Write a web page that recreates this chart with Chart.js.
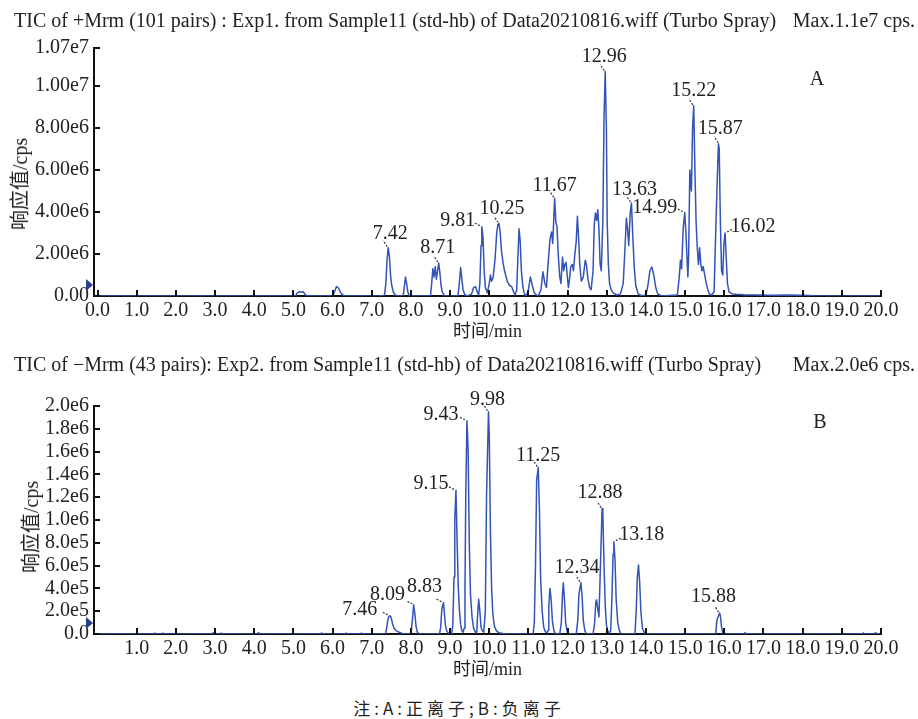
<!DOCTYPE html>
<html><head><meta charset="utf-8">
<script src="https://cdn.jsdelivr.net/npm/chart.js@4.4.0/dist/chart.umd.min.js"></script>
<style>
html,body{margin:0;padding:0;background:#fff;}
#wrap{position:relative;width:918px;height:719px;overflow:hidden;font-family:"Liberation Serif","Noto Sans CJK SC",serif;color:#222;}
canvas{position:absolute;left:0;}
#cA{top:0;} #cB{top:350px;}
.hdr{position:absolute;left:14px;right:3px;font-size:20px;line-height:20px;white-space:nowrap;}
.hdr .r{position:absolute;right:0;top:0;}
.ytitle{position:absolute;font-size:20px;line-height:20px;white-space:nowrap;transform:translate(-50%,-50%) rotate(-90deg);}
.tag{position:absolute;font-size:20px;line-height:20px;transform:translate(-50%,-50%);}
#note{position:absolute;left:0;width:918px;top:698px;text-align:center;font-size:17px;line-height:20px;letter-spacing:4px;font-family:"Noto Sans CJK SC",sans-serif;}
</style></head>
<body><div id="wrap">
<canvas id="cA" width="918" height="350"></canvas>
<canvas id="cB" width="918" height="340"></canvas>
<div class="hdr" style="top:10px">TIC of +Mrm (101 pairs) : Exp1. from Sample11 (std-hb) of Data20210816.wiff (Turbo Spray)<span class="r">Max.1.1e7 cps.</span></div>
<div class="hdr" style="top:354px">TIC of −Mrm (43 pairs): Exp2. from Sample11 (std-hb) of Data20210816.wiff (Turbo Spray)<span class="r">Max.2.0e6 cps.</span></div>
<div class="ytitle" style="left:20px;top:184px">响应值/cps</div>
<div class="ytitle" style="left:31px;top:527px">响应值/cps</div>
<div class="tag" style="left:817px;top:78px">A</div>
<div class="tag" style="left:820px;top:421px">B</div>
<div id="note">注:A:正离子;B:负离子</div>
</div>
<script>
// ---------- data ----------
// Panel A: time (min), response (units of 1e6 cps)
const traceA = [
[0,0],[5.05,0],[5.1,0.15],[5.15,0.2],[5.2,0.18],[5.25,0.2],[5.3,0.08],[5.35,0],
[6.0,0],[6.05,0.2],[6.1,0.45],[6.15,0.38],[6.2,0.18],[6.25,0.06],[6.32,0],
[7.3,0],[7.33,0.1],[7.36,0.6],[7.39,1.7],[7.42,2.3],[7.45,1.9],[7.48,1.0],[7.51,0.5],[7.55,0.2],[7.6,0.05],[7.65,0],
[7.8,0],[7.83,0.4],[7.86,0.9],[7.89,0.6],[7.92,0.2],[7.96,0],
[8.5,0],[8.53,0.6],[8.56,1.3],[8.59,0.9],[8.62,1.4],[8.65,0.8],[8.68,1.2],[8.71,1.57],[8.74,1.1],[8.77,0.5],[8.8,0.2],[8.86,0],
[9.2,0],[9.23,0.5],[9.27,1.35],[9.3,0.8],[9.33,0.3],[9.38,0.05],[9.45,0],
[9.55,0.1],[9.6,0.4],[9.65,0.45],[9.7,0.15],[9.73,0.05],[9.76,0.6],[9.79,2.4],[9.81,3.3],[9.84,2.8],[9.87,1.2],[9.9,0.4],[9.95,0.15],
[10.0,0.6],[10.03,1.0],[10.06,0.7],[10.1,0.9],[10.15,1.8],[10.19,3.0],[10.22,3.4],[10.25,3.45],[10.28,3.0],[10.31,2.2],[10.35,1.6],[10.39,1.2],[10.43,0.9],[10.47,0.65],[10.52,0.5],[10.57,0.45],[10.62,0.2],[10.66,0.05],
[10.7,0.3],[10.73,1.8],[10.76,3.2],[10.79,2.6],[10.82,1.2],[10.86,0.4],[10.9,0.1],[10.95,0],
[11.0,0.3],[11.05,0.9],[11.1,0.5],[11.15,0.15],[11.2,0.05],[11.25,0],
[11.32,0.3],[11.37,1.15],[11.42,0.6],[11.46,0.4],[11.5,1.5],[11.55,2.7],[11.59,3.05],[11.62,2.5],[11.65,3.8],[11.67,4.65],[11.7,3.5],[11.73,3.3],[11.76,2.0],[11.8,0.9],[11.83,0.6],[11.87,1.85],[11.9,1.2],[11.93,1.5],[11.96,1.6],[11.99,1.0],[12.02,0.4],[12.05,0.8],[12.08,1.4],[12.12,1.5],[12.15,1.2],[12.18,1.9],[12.22,2.6],[12.25,3.8],[12.28,2.8],[12.31,1.5],[12.35,0.7],[12.4,0.9],[12.45,1.7],[12.48,1.5],[12.52,0.8],[12.56,0.4],[12.6,0.3],[12.65,1.2],[12.68,3.4],[12.71,3.95],[12.74,3.6],[12.77,4.1],[12.8,3.2],[12.83,1.5],[12.86,1.2],[12.9,3.6],[12.93,8.5],[12.96,10.68],[12.99,8.0],[13.01,3.6],[13.04,1.5],[13.07,0.6],[13.11,0.3],[13.16,0.15],[13.25,0.05],[13.35,0.1],
[13.42,0.6],[13.47,2.5],[13.5,3.7],[13.53,3.2],[13.56,2.4],[13.6,4.0],[13.63,4.43],[13.66,3.0],[13.7,1.4],[13.74,0.5],[13.8,0.1],[13.9,0],
[14.0,0.05],[14.05,0.5],[14.1,1.2],[14.15,1.38],[14.2,1.0],[14.25,0.4],[14.3,0.1],[14.4,0],
[14.8,0.05],[14.85,0.9],[14.88,1.7],[14.91,1.3],[14.95,3.2],[14.99,3.97],[15.02,3.0],[15.05,1.7],[15.07,0.9],[15.09,2.0],[15.12,6.0],[15.16,5.0],[15.19,8.0],[15.22,9.05],[15.25,6.0],[15.28,3.5],[15.31,2.3],[15.34,1.5],[15.37,2.3],[15.4,1.5],[15.43,1.2],[15.46,1.4],[15.5,1.0],[15.54,0.6],[15.58,0.3],[15.62,0.1],[15.68,0.05],
[15.74,0.2],[15.78,3.0],[15.81,4.9],[15.85,7.25],[15.87,7.0],[15.9,3.5],[15.93,1.2],[15.96,1.0],[15.99,2.5],[16.02,3.0],[16.05,1.8],[16.08,0.6],[16.12,0.2],[16.2,0.1],[16.3,0.08],[16.5,0.06],[16.8,0.05],[17.2,0.04],[17.6,0.05],[18.0,0.04],[18.2,0.02],[18.3,0],[20,0]
];
// Panel B: time (min), response (units of 1e5 cps)
const traceB = [
[0,0],[1.44,0],[1.46,0.08],[1.48,0],[1.65,0],[1.67,0.08],[1.69,0],[2.93,0],[2.95,0.1],[2.97,0],[3.14,0],[3.16,0.08],[3.18,0],[4.08,0],[4.1,0.1],[4.12,0],[5.7,0],[5.72,0.1],[5.74,0],[6.33,0],[6.35,0.08],[6.37,0],[6.72,0],[6.74,0.08],[6.76,0],
[7.35,0],[7.38,0.5],[7.41,1.2],[7.44,1.55],[7.47,1.6],[7.5,1.4],[7.53,0.9],[7.57,0.5],[7.62,0.3],[7.7,0.15],[7.78,0.05],[7.85,0],
[7.98,0],[8.01,0.3],[8.04,1.3],[8.07,2.55],[8.1,1.8],[8.13,0.7],[8.16,0.2],[8.2,0],
[8.73,0],[8.76,0.6],[8.79,2.2],[8.83,2.75],[8.85,2.0],[8.88,0.8],[8.91,0.3],[8.95,0.1],[9.0,0],
[9.04,0],[9.07,0.8],[9.1,5.0],[9.12,10.0],[9.15,12.6],[9.18,8.0],[9.21,4.0],[9.24,2.0],[9.27,0.8],[9.3,0.3],[9.33,0.15],
[9.36,0.5],[9.38,4.0],[9.4,12.0],[9.43,18.7],[9.46,16.3],[9.49,8.0],[9.52,3.5],[9.56,1.5],[9.6,0.5],[9.65,0.15],
[9.68,0.1],[9.7,1.5],[9.73,3.05],[9.76,2.0],[9.79,0.6],[9.82,0.3],[9.86,0.15],
[9.9,2.0],[9.93,12.0],[9.98,19.5],[10.0,17.5],[10.03,9.0],[10.06,4.0],[10.09,1.8],[10.13,0.7],[10.18,0.3],[10.25,0.1],[10.35,0.05],[10.5,0],
[11.12,0],[11.15,1.0],[11.18,6.0],[11.21,13.5],[11.25,14.6],[11.28,11.0],[11.31,5.0],[11.35,2.0],[11.39,0.6],[11.43,0.2],[11.47,0.1],
[11.5,0.3],[11.52,2.5],[11.55,4.0],[11.58,3.0],[11.61,1.2],[11.65,0.3],[11.7,0],
[11.8,0],[11.84,1.0],[11.87,3.5],[11.89,4.5],[11.92,3.0],[11.95,1.0],[11.99,0.2],[12.03,0],
[12.22,0],[12.26,1.2],[12.29,3.5],[12.34,4.5],[12.37,3.3],[12.4,1.2],[12.44,0.3],[12.48,0],
[12.65,0],[12.69,1.0],[12.72,2.8],[12.74,3.0],[12.77,2.2],[12.8,1.5],[12.83,5.0],[12.88,11.0],[12.9,10.5],[12.93,6.0],[12.96,2.5],[12.99,0.8],[13.03,0.2],[13.07,0.1],
[13.1,0.3],[13.13,3.0],[13.16,7.0],[13.18,8.1],[13.21,6.5],[13.24,3.0],[13.28,1.0],[13.32,0.3],[13.37,0],
[13.72,0],[13.75,2.0],[13.78,5.0],[13.81,6.05],[13.84,4.5],[13.87,2.0],[13.91,0.5],[13.96,0.1],[14.0,0],
[15.78,0],[15.81,1.2],[15.88,1.84],[15.9,1.6],[15.93,0.6],[15.96,0.1],[16.0,0],
[16.5,0],[16.53,0.12],[16.56,0],[19.53,0],[19.55,0.1],[19.57,0],[19.83,0],[19.85,0.1],[19.87,0],[20,0]
];
const xTickValuesA = [0,1,2,3,4,5,6,7,8,9,10,11,12,13,14,15,16,17,18,19,20];
const xTickLabelsA = ['0.0','1.0','2.0','3.0','4.0','5.0','6.0','7.0','8.0','9.0','10.0','11.0','12.0','13.0','14.0','15.0','16.0','17.0','18.0','19.0','20.0'];
const xTickValuesB = [1,2,3,4,5,6,7,8,9,10,11,12,13,14,15,16,17,18,19,20];
const xTickLabelsB = ['1.0','2.0','3.0','4.0','5.0','6.0','7.0','8.0','9.0','10.0','11.0','12.0','13.0','14.0','15.0','16.0','17.0','18.0','19.0','20.0'];
const yTickValuesA = [0,2,4,6,8,10,11.8];
const yTickLabelsA = ['0.00','2.00e6','4.00e6','6.00e6','8.00e6','1.00e7','1.07e7'];
const yTickValuesB = [0,2,4,6,8,10,12,14,16,18,20];
const yTickLabelsB = ['0.0','2.0e5','4.0e5','6.0e5','8.0e5','1.0e6','1.2e6','1.4e6','1.6e6','1.8e6','2.0e6'];
const peakLabelsA = ['7.42','8.71','9.81','10.25','11.67','12.96','13.63','14.99','15.22','15.87','16.02'];
const peakTimesA = [7.42,8.71,9.81,10.25,11.67,12.96,13.63,14.99,15.22,15.87,16.02];
const peakHeightsA = [2.3,1.57,3.3,3.45,4.65,10.68,4.43,3.97,9.05,7.25,3.0];
const peakLabelsB = ['7.46','8.09','8.83','9.15','9.43','9.98','11.25','12.34','12.88','13.18','15.88'];
const peakTimesB = [7.46,8.09,8.83,9.15,9.43,9.98,11.25,12.34,12.88,13.18,15.88];
const peakHeightsB = [1.6,2.55,2.75,12.6,18.7,19.5,14.6,4.5,11.0,8.1,1.84];

// ---------- layout / style ----------
const labelOffsetA = [[2,-14],[-1,-15],[-24,-6],[3,-15],[0,-13],[-1,-15],[3,-13],[-30,-5],[0,-15],[1,-15],[28,-6]];
const labelSideA = ['u','u','l','u','u','u','u','l','u','u','r'];
const labelOffsetB = [[-30,-6],[-27,-10],[-19,-16],[-25,-7],[-26,-6],[-1,-12],[0,-12],[-4,-15],[-2,-16],[28,-7],[-6,-16]];
const labelSideB = ['l','l','l','l','l','u','u','u','u','r','u'];

const SERIF = "'Liberation Serif','Noto Sans CJK SC',serif";
const LINE = '#3354b6';

function decorPlugin(lab) {
  return {
    id: 'decor',
    afterDraw(chart) {
      const {ctx, chartArea, scales: {x, y}} = chart;
      ctx.save();
      const base = Math.round(y.getPixelForValue(0));
      ctx.strokeStyle = '#111'; ctx.lineWidth = 2;
      x.ticks.forEach(t => {
        const px = Math.round(x.getPixelForValue(t.value));
        ctx.beginPath(); ctx.moveTo(px, base); ctx.lineTo(px, base - 6); ctx.stroke();
      });
      y.ticks.forEach(t => {
        const py = Math.round(y.getPixelForValue(t.value));
        ctx.beginPath(); ctx.moveTo(chartArea.left, py); ctx.lineTo(chartArea.left + 6, py); ctx.stroke();
      });
      // small start marker
      const my = base - 11, mx = chartArea.left - 1;
      ctx.fillStyle = '#2b3f8c';
      ctx.beginPath(); ctx.moveTo(mx - 7, my - 6); ctx.lineTo(mx, my); ctx.lineTo(mx - 7, my + 6); ctx.closePath(); ctx.fill();
      // peak labels
      ctx.font = "20px " + SERIF; ctx.fillStyle = '#222';
      ctx.textAlign = 'center'; ctx.textBaseline = 'middle';
      lab.text.forEach((txt, i) => {
        const px = x.getPixelForValue(lab.t[i]);
        const py = y.getPixelForValue(lab.v[i]);
        ctx.fillText(txt, px + lab.off[i][0], py + lab.off[i][1]);
        ctx.save();
        ctx.strokeStyle = '#333'; ctx.lineWidth = 1.2; ctx.setLineDash([2, 1.5]);
        ctx.beginPath();
        const s = lab.side[i];
        if (s === 'u') { ctx.moveTo(px - 1, py - 1); ctx.lineTo(px - 5, py - 7); }
        else if (s === 'l') { ctx.moveTo(px - 2, py - 1); ctx.lineTo(px - 8, py - 4); }
        else { ctx.moveTo(px + 2, py - 1); ctx.lineTo(px + 8, py - 4); }
        ctx.stroke();
        ctx.restore();
      });
      ctx.restore();
    }
  };
}

function buildChart(id, c) {
  return new Chart(document.getElementById(id), {
    type: 'line',
    data: { datasets: [{
      data: c.trace.map(p => ({x: p[0], y: p[1]})),
      borderColor: LINE, borderWidth: 1.5, pointRadius: 0, tension: 0, fill: false,
      borderJoinStyle: 'round'
    }]},
    options: {
      responsive: false, animation: false, devicePixelRatio: 1,
      layout: { padding: { top: c.padTop, right: 37, bottom: 0, left: 0 } },
      plugins: { legend: { display: false }, tooltip: { enabled: false } },
      scales: {
        x: {
          type: 'linear', min: -0.09, max: 20,
          grid: { display: false, drawTicks: false },
          border: { display: true, color: '#111', width: 2 },
          afterBuildTicks: s => { s.ticks = c.xVals.map(v => ({value: v})); },
          afterFit: s => { s.height = c.xHeight; },
          ticks: { autoSkip: false, maxRotation: 0, minRotation: 0, padding: 3, color: '#222',
                   font: { family: SERIF, size: 20 }, callback: (v, i) => c.xLabels[i] },
          title: { display: true, text: '时间/min', color: '#222',
                   font: { family: SERIF, size: 18 }, padding: { top: 0, bottom: c.xTitlePad } }
        },
        y: {
          type: 'linear', min: 0, max: c.yMax,
          grid: { display: false, drawTicks: false },
          border: { display: true, color: '#111', width: 2 },
          afterBuildTicks: s => { s.ticks = c.yVals.map(v => ({value: v})); },
          afterFit: s => { s.width = 94; },
          ticks: { autoSkip: false, padding: 5, color: '#222',
                   font: { family: SERIF, size: 20 }, callback: (v, i) => c.yLabels[i] }
        }
      }
    },
    plugins: [decorPlugin(c.lab)]
  });
}

buildChart('cA', {
  trace: traceA, xVals: xTickValuesA, xLabels: xTickLabelsA,
  yVals: yTickValuesA, yLabels: yTickLabelsA, yMax: 11.8,
  padTop: 48, xHeight: 54, xTitlePad: 7,
  lab: { text: peakLabelsA, t: peakTimesA, v: peakHeightsA, off: labelOffsetA, side: labelSideA }
});
buildChart('cB', {
  trace: traceB, xVals: xTickValuesB, xLabels: xTickLabelsB,
  yVals: yTickValuesB, yLabels: yTickLabelsB, yMax: 20,
  padTop: 56, xHeight: 56, xTitlePad: 9,
  lab: { text: peakLabelsB, t: peakTimesB, v: peakHeightsB, off: labelOffsetB, side: labelSideB }
});
</script>
</body></html>
